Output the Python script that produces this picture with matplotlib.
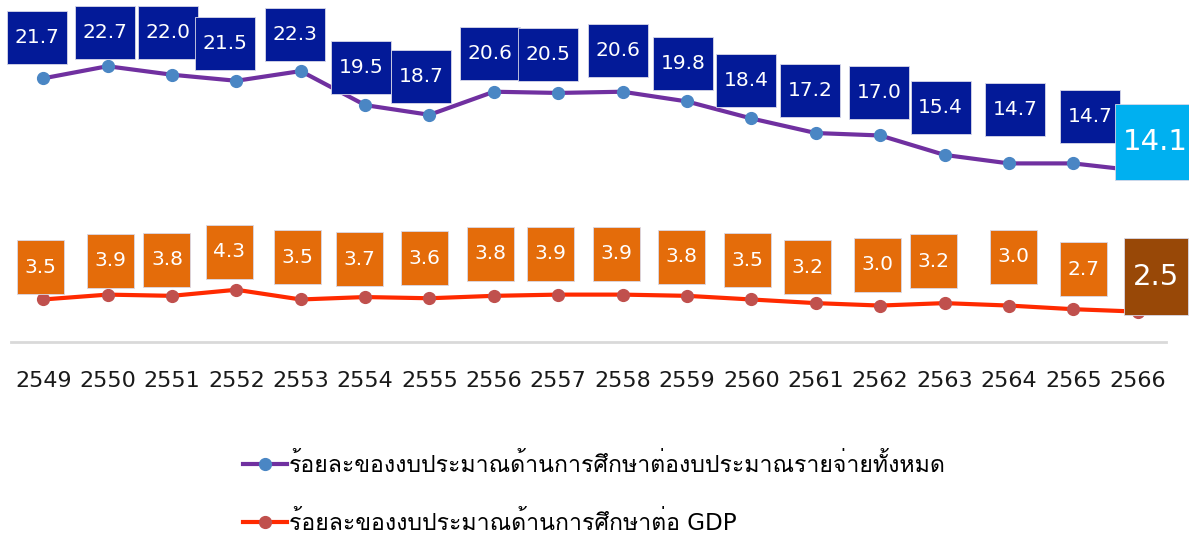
import matplotlib
matplotlib.use('Agg')
import matplotlib.pyplot as plt
import matplotlib.transforms as mtransforms
from matplotlib import font_manager
from matplotlib.ft2font import FT2Font
from matplotlib.lines import Line2D
from matplotlib.patches import Rectangle

# data
years = ['2549', '2550', '2551', '2552', '2553', '2554', '2555', '2556', '2557',
         '2558', '2559', '2560', '2561', '2562', '2563', '2564', '2565', '2566']
pct_of_budget = [21.7, 22.7, 22.0, 21.5, 22.3, 19.5, 18.7, 20.6, 20.5,
                 20.6, 19.8, 18.4, 17.2, 17.0, 15.4, 14.7, 14.7, 14.1]
pct_of_gdp = [3.5, 3.9, 3.8, 4.3, 3.5, 3.7, 3.6, 3.8, 3.9,
              3.9, 3.8, 3.5, 3.2, 3.0, 3.2, 3.0, 2.7, 2.5]
label_budget = 'ร้อยละของงบประมาณด้านการศึกษาต่องบประมาณรายจ่ายทั้งหมด'
label_gdp = 'ร้อยละของงบประมาณด้านการศึกษาต่อ GDP'

# label box nudges in pixels (dx, dy up), as placed in the original chart
budget_nudge = [(-6, 41), (-3, 34), (-4, 42), (-11, 37), (-6, 37), (-4, 38), (-8, 38), (-4, 38), (-10, 38),
                (-5, 41), (-4, 38), (-5, 38), (-6, 43), (-1, 43), (-4, 47), (6, 54), (17, 47), (18, 29)]
gdp_nudge = [(-3, 32), (3, 34), (-5, 36), (-7, 38), (-3, 42), (-6, 38), (-5, 40), (-3, 42), (-8, 41),
             (-6, 41), (-6, 39), (-4, 39), (-8, 36), (-3, 41), (-11, 42), (5, 49), (10, 40), (18, 35)]

# find a font that can draw Thai
thai_font = None
for f in font_manager.fontManager.ttflist:
    try:
        if 0x0E01 in FT2Font(f.fname).get_charmap():
            thai_font = f.name
            break
    except Exception:
        pass
families = ['DejaVu Sans'] if thai_font is None else ['DejaVu Sans', thai_font]
plt.rcParams['font.family'] = families

PX = 72.0 / 100  # pixels -> points

fig = plt.figure(figsize=(11.89, 5.36), dpi=100)
ax = fig.add_axes([11 / 1189, 1 - 342 / 536, 1155 / 1189, 342 / 536])
x = list(range(len(years)))

ax.plot(x, pct_of_budget, color='#7030A0', lw=3, marker='o', ms=8.5,
        mfc='#4A86C4', mec='#4A86C4', zorder=2)
ax.plot(x, pct_of_gdp, color='#FF2A00', lw=3, marker='o', ms=8.5,
        mfc='#C0504D', mec='#C0504D', zorder=2)

ax.set_xlim(-0.5, 17.44)
ax.set_ylim(0, 28.15)
ax.set_xticks(x)
ax.set_xticklabels(years, fontsize=16, color='#1a1a1a')
ax.tick_params(axis='x', length=0, pad=21)
ax.set_yticks([])
for s in ['top', 'left', 'right']:
    ax.spines[s].set_visible(False)
ax.spines['bottom'].set_color('#d9d9d9')
ax.spines['bottom'].set_linewidth(2)


def label_box(xi, yi, text, nudge, w, h, fc, fs):
    tr = mtransforms.Affine2D().scale(fig.dpi / 72.0) + \
        mtransforms.ScaledTranslation(xi, yi, ax.transData)
    dx, dy = nudge[0] * PX, nudge[1] * PX
    ax.add_patch(Rectangle((dx - w * PX / 2, dy - h * PX / 2), w * PX, h * PX,
                           transform=tr, fc=fc, ec='#d8d8e8', lw=0.6,
                           clip_on=False, zorder=4))
    ax.text(dx, dy, text, transform=tr, ha='center', va='center',
            color='white', fontsize=fs, zorder=5, clip_on=False)


n = len(years)
for i in range(n):
    last = i == n - 1
    label_box(x[i], pct_of_budget[i], f'{pct_of_budget[i]:.1f}', budget_nudge[i],
              82 if last else 60, 76 if last else 53,
              '#00B0F0' if last else '#031A98', 21 if last else 14.5)
    label_box(x[i], pct_of_gdp[i], f'{pct_of_gdp[i]:.1f}', gdp_nudge[i],
              64 if last else 47, 77 if last else 54,
              '#984807' if last else '#E46C0A', 21 if last else 14.5)

handles = [Line2D([], [], color='#7030A0', lw=3, marker='o', ms=8.5, mfc='#4A86C4', mec='#4A86C4'),
           Line2D([], [], color='#FF2A00', lw=3, marker='o', ms=8.5, mfc='#C0504D', mec='#C0504D')]
fig.legend(handles, [label_budget, label_gdp], loc='center', bbox_to_anchor=(0.5, 1 - 494 / 536),
           frameon=False, fontsize=16.6, handlelength=1.9, handletextpad=0.1, labelspacing=1.5,
           borderpad=0)

fig.savefig('out.png', dpi=100)
